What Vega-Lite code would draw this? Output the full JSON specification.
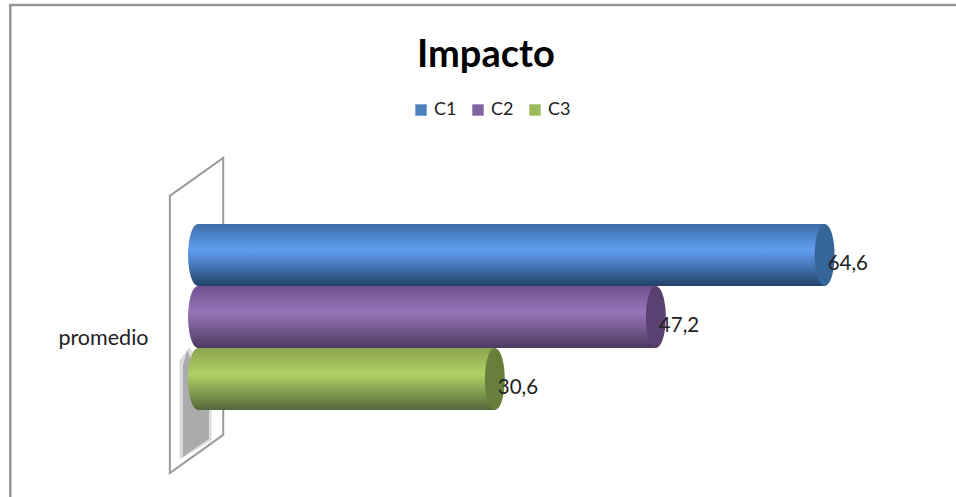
{
"$schema":"https://vega.github.io/schema/vega-lite/v6.json",
"width":956,"height":497,"padding":0,"autosize":{"type":"none"},
"background":"white",
"view":{"stroke":null},
"title":{"text":"Impacto","font":"Lato","fontSize":38,"fontWeight":"bold","color":"#000000","anchor":"start","frame":"group","dx":417,"dy":75,"offset":0},
"datasets":{
"barras":[
{"serie":"C1","grupo":"promedio","valor":64.6,"cero":0,"etiqueta":"64,6"},
{"serie":"C2","grupo":"promedio","valor":47.2,"cero":0,"etiqueta":"47,2"},
{"serie":"C3","grupo":"promedio","valor":30.6,"cero":0,"etiqueta":"30,6"}],
"pared":[
{"n":1,"px":-2.9,"h":60.6},{"n":2,"px":2.6,"h":68.2},{"n":3,"px":2.6,"h":12.5},{"n":4,"px":-2.9,"h":4.8},{"n":5,"px":-2.9,"h":60.6}],
"sombra":[
{"px":-1.55,"h":26.5,"h2":8.0},{"px":-1.1,"h":29.6,"h2":8.7},{"px":1.13,"h":18.5,"h2":11.7}],
"sombra_suave":[
{"px":-1.9,"h":27.5,"h2":7.6},{"px":-0.82,"h":30.2,"h2":8.8},{"px":1.4,"h":18.5,"h2":11.4}],
"marco":[
{"n":1,"px":78.14,"h":99},{"n":2,"px":-19.35,"h":99},{"n":3,"px":-19.35,"h":0}]
},
"resolve":{"scale":{"y":"independent"}},
"encoding":{"x":{"type":"quantitative","axis":null,"scale":{"domain":[-20.41,78.14],"nice":false,"zero":false}}},
"layer":[
{"data":{"name":"marco"},"mark":{"type":"line","color":"#969696","strokeWidth":2.5,"clip":false},
 "encoding":{"order":{"field":"n"},"x":{"field":"px","type":"quantitative","axis":null},
 "y":{"field":"h","type":"quantitative","axis":null,"scale":{"domain":[0,100],"nice":false}}}},
{"data":{"name":"pared"},"mark":{"type":"line","color":"#9a9a9a","strokeWidth":2,"strokeCap":"square","strokeJoin":"miter"},
 "encoding":{"order":{"field":"n"},"x":{"field":"px","type":"quantitative","axis":null},
 "y":{"field":"h","type":"quantitative","axis":null,"scale":{"domain":[0,100],"nice":false}}}},
{"data":{"name":"sombra_suave"},"mark":{"type":"area","color":"#a8a8a8","opacity":0.4},
 "encoding":{"x":{"field":"px","type":"quantitative","axis":null},
 "y":{"field":"h","type":"quantitative","axis":null,"scale":{"domain":[0,100],"nice":false}},
 "y2":{"field":"h2"}}},
{"data":{"name":"sombra"},"mark":{"type":"area","color":"#a8a8a8","opacity":0.95},
 "encoding":{"x":{"field":"px","type":"quantitative","axis":null},
 "y":{"field":"h","type":"quantitative","axis":null,"scale":{"domain":[0,100],"nice":false}},
 "y2":{"field":"h2"}}},
{"data":{"name":"barras"},
 "encoding":{"y":{"field":"grupo","type":"nominal","title":null,"scale":{"range":[224,410],"paddingInner":0,"paddingOuter":0},
    "axis":{"orient":"left","offset":-148,"ticks":false,"domain":false,"labelFont":"Lato","labelFontSize":21.5,"labelColor":"#222222","labelOffset":22,"labelPadding":0}},
   "yOffset":{"field":"serie","type":"nominal","scale":{"domain":["C1","C2","C3"]}}},
 "layer":[
 {"mark":{"type":"bar","opacity":0},
  "encoding":{"x":{"field":"valor","type":"quantitative"},
   "color":{"field":"serie","type":"nominal","title":null,
    "scale":{"domain":["C1","C2","C3"],"range":["#4f81bd","#8064a2","#9bbb59"]},
    "legend":{"orient":"none","legendX":412,"legendY":101,"direction":"horizontal","symbolType":"square","symbolSize":130,"labelFont":"Lato","labelFontSize":18,"labelColor":"#222222","columnPadding":12,"labelOffset":4,"symbolStrokeWidth":0,"symbolOpacity":1}}}},
 {"transform":[{"filter":"datum.serie==='C1'"}],
  "layer":[
  {"mark":{"type":"point","filled":true,"opacity":1,"shape":"M0,-1A0.32,1 0 1,1 0,1A0.32,1 0 1,1 0,-1Z","size":3844,"color":{"gradient":"linear","x1":0,"y1":0,"x2":0,"y2":1,"stops":[{"offset":0,"color":"#3c6ca6"},{"offset":0.42,"color":"#619ff0"},{"offset":1,"color":"#23416a"}]}},"encoding":{"x":{"field":"cero","type":"quantitative"}}},
  {"mark":{"type":"bar","color":{"gradient":"linear","x1":0,"y1":0,"x2":0,"y2":1,"stops":[{"offset":0,"color":"#3c6ca6"},{"offset":0.42,"color":"#619ff0"},{"offset":1,"color":"#23416a"}]}},"encoding":{"x":{"field":"valor","type":"quantitative"}}},
  {"mark":{"type":"point","filled":true,"opacity":1,"shape":"M0,-1A0.32,1 0 1,1 0,1A0.32,1 0 1,1 0,-1Z","size":3844,"color":"#36659a"},"encoding":{"x":{"field":"valor","type":"quantitative"}}}
  ]},
 {"transform":[{"filter":"datum.serie==='C2'"}],
  "layer":[
  {"mark":{"type":"point","filled":true,"opacity":1,"shape":"M0,-1A0.32,1 0 1,1 0,1A0.32,1 0 1,1 0,-1Z","size":3844,"color":{"gradient":"linear","x1":0,"y1":0,"x2":0,"y2":1,"stops":[{"offset":0,"color":"#6e5090"},{"offset":0.42,"color":"#9676b9"},{"offset":1,"color":"#4c3860"}]}},"encoding":{"x":{"field":"cero","type":"quantitative"}}},
  {"mark":{"type":"bar","color":{"gradient":"linear","x1":0,"y1":0,"x2":0,"y2":1,"stops":[{"offset":0,"color":"#6e5090"},{"offset":0.42,"color":"#9676b9"},{"offset":1,"color":"#4c3860"}]}},"encoding":{"x":{"field":"valor","type":"quantitative"}}},
  {"mark":{"type":"point","filled":true,"opacity":1,"shape":"M0,-1A0.32,1 0 1,1 0,1A0.32,1 0 1,1 0,-1Z","size":3844,"color":"#5a4070"},"encoding":{"x":{"field":"valor","type":"quantitative"}}}
  ]},
 {"transform":[{"filter":"datum.serie==='C3'"}],
  "layer":[
  {"mark":{"type":"point","filled":true,"opacity":1,"shape":"M0,-1A0.32,1 0 1,1 0,1A0.32,1 0 1,1 0,-1Z","size":3844,"color":{"gradient":"linear","x1":0,"y1":0,"x2":0,"y2":1,"stops":[{"offset":0,"color":"#8aa24e"},{"offset":0.42,"color":"#afd365"},{"offset":1,"color":"#55683a"}]}},"encoding":{"x":{"field":"cero","type":"quantitative"}}},
  {"mark":{"type":"bar","color":{"gradient":"linear","x1":0,"y1":0,"x2":0,"y2":1,"stops":[{"offset":0,"color":"#8aa24e"},{"offset":0.42,"color":"#afd365"},{"offset":1,"color":"#55683a"}]}},"encoding":{"x":{"field":"valor","type":"quantitative"}}},
  {"mark":{"type":"point","filled":true,"opacity":1,"shape":"M0,-1A0.32,1 0 1,1 0,1A0.32,1 0 1,1 0,-1Z","size":3844,"color":"#677f3a"},"encoding":{"x":{"field":"valor","type":"quantitative"}}}
  ]},
 {"mark":{"type":"text","align":"left","font":"Lato","fontSize":20.5,"color":"#222222","dx":3,"dy":9},
  "encoding":{"x":{"field":"valor","type":"quantitative"},"text":{"field":"etiqueta"}}}
 ]}
]
}
